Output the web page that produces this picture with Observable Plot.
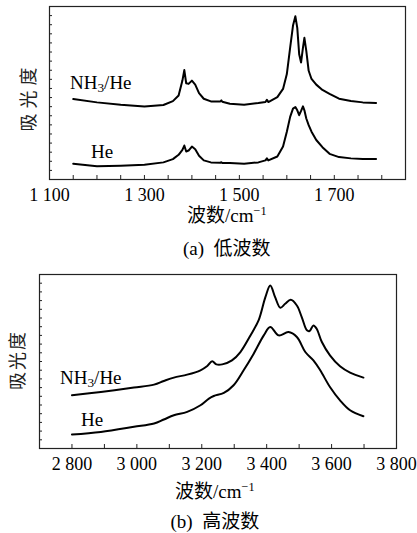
<!DOCTYPE html>
<html>
<head>
<meta charset="utf-8">
<script src="https://cdn.jsdelivr.net/npm/d3@7"></script>
<script src="https://cdn.jsdelivr.net/npm/@observablehq/plot@0.6"></script>
<style>
  html, body { margin: 0; padding: 0; background: #fff; }
  #wrap { position: relative; width: 417px; height: 533px; overflow: hidden;
          font-family: "Liberation Serif", "Times New Roman", "DejaVu Serif", "Noto Sans CJK SC", serif; color: #000; }
  .abs { position: absolute; white-space: nowrap; line-height: 1; }
  .lbl { font-size: 19px; }
  .ylab { font-size: 18px; color: #222; }
  sub { font-size: 0.7em; vertical-align: -0.2em; }
  sup { font-size: 0.65em; vertical-align: 0.55em; }
</style>
</head>
<body>
<div id="wrap">
  <div id="pa" class="abs" style="left:0;top:0"></div>
  <div id="pb" class="abs" style="left:0;top:268px"></div>
</div>
<script>
// ---------- Panel (a): low wavenumber ----------
const waveA = [1150,1200,1250,1300,1340,1360,1372,1380,1384,1388,1393,1400,1407,1415,1425,1440,1460,1462,1464,1480,1510,1540,1555,1558,1561,1580,1592,1600,1607,1613,1618,1622,1626,1630,1634,1637,1641,1646,1652,1662,1675,1690,1710,1735,1760,1788];
const nh3A  = [8.83,8.47,8.22,8.03,8.18,8.61,9.23,10.86,12.02,10.57,10.50,10.86,10.42,9.48,8.87,8.58,8.58,8.69,8.54,8.32,8.22,8.40,8.51,8.76,8.51,9.05,9.95,11.58,14.48,16.90,17.92,16.65,13.75,12.85,14.48,15.56,14.12,11.94,11.04,10.42,9.84,9.41,8.87,8.61,8.47,8.40];
const heA   = [1.74,1.45,1.52,1.63,1.88,2.24,2.71,3.26,3.73,3.08,3.18,3.62,3.33,2.61,2.10,1.88,1.83,1.90,1.81,1.81,1.74,1.88,2.10,2.32,2.10,2.53,3.62,5.25,6.88,7.78,7.96,7.60,7.06,7.53,8.03,7.60,6.70,5.97,5.25,4.34,3.55,2.82,2.46,2.32,2.24,2.24];
const xDomainA = [1100, 1850];
const xMajorA = [1100, 1300, 1500, 1700];
const xMinorA = [1150,1200,1250,1300,1350,1400,1450,1500,1550,1600,1650,1700,1750,1800];
const yMinorA = [1,2,3,4,5,6,7,8,9,10,11,12,13,14,15,16,17,18];

// ---------- Panel (b): high wavenumber ----------
const waveBn = [2800,2889,2991,3053,3083,3114,3155,3196,3217,3232,3245,3263,3293,3319,3350,3375,3396,3411,3426,3442,3457,3474,3493,3508,3524,3532,3544,3554,3570,3595,3626,3657,3698];
const nh3B   = [6.12,6.50,7.00,7.34,7.76,8.15,8.49,8.99,9.48,10.02,9.67,9.67,10.13,11.09,13.00,14.72,17.40,18.74,17.40,16.18,16.63,17.09,16.44,15.11,13.58,13.50,14.15,13.77,12.24,10.71,9.45,8.72,8.15];
const waveBh = [2800,2889,2991,3053,3083,3114,3155,3196,3222,3237,3268,3298,3329,3360,3391,3411,3437,3467,3493,3519,3544,3565,3595,3626,3657,3698];
const heB    = [1.61,1.91,2.49,2.87,3.33,3.82,4.21,4.97,5.74,6.04,6.39,7.27,8.99,10.90,13.00,13.96,13.00,13.38,12.81,11.09,10.13,8.99,7.07,5.54,4.40,3.71];
const xDomainB = [2700, 3800];
const xMajorB = [2800, 3000, 3200, 3400, 3600, 3800];
const xMinorB = [2800,2900,3000,3100,3200,3300,3400,3500,3600,3700];
const yMinorB = [1,2,3,4,5,6,7,8,9,10,11,12,13,14,15,16,17,18,19];

const fmt = d => d3.format(",")(d).replace(/,/g, " ");
const font = '"Liberation Serif", "Times New Roman", "DejaVu Serif", "Noto Sans CJK SC", serif';

function panel({waves1, vals1, waves2, vals2, xDomain, yDomain, xMajor, xMinor, yMinor, mL, mR, mT, mB, pad, curve}) {
  const fw = 417 - mL - mR, fh = 205 - mT - mB;
  const s1 = waves1.map((w, i) => ({w, v: vals1[i]}));
  const s2 = waves2.map((w, i) => ({w, v: vals2[i]}));
  return Plot.plot({
    width: 417, height: 205,
    marginLeft: mL, marginRight: mR, marginTop: mT, marginBottom: mB,
    x: {domain: xDomain},
    y: {domain: yDomain, axis: null},
    style: {fontFamily: font, fontSize: "18px", color: "#000", background: "transparent", overflow: "visible"},
    marks: [
      Plot.frame({stroke: "#222", strokeWidth: 1.2}),
      Plot.tickX(xMinor, {x: d => d, insetTop: fh - 4, stroke: "#222", strokeWidth: 1}),
      Plot.tickY(yMinor, {y: d => d, insetRight: fw - 3, stroke: "#222", strokeWidth: 1}),
      Plot.axisX(xMajor, {tickSize: 0, tickPadding: pad, tickFormat: fmt, label: null, fontSize: 18}),
      Plot.line(s1, {x: "w", y: "v", stroke: "#000", strokeWidth: 2, curve, strokeLinejoin: "round"}),
      Plot.line(s2, {x: "w", y: "v", stroke: "#000", strokeWidth: 2, curve, strokeLinejoin: "round"})
    ]
  });
}

document.getElementById("pa").appendChild(panel({
  waves1: waveA, vals1: nh3A, waves2: waveA, vals2: heA,
  xDomain: xDomainA, yDomain: [0, 19], xMajor: xMajorA, xMinor: xMinorA, yMinor: yMinorA,
  mL: 49, mR: 12, mT: 6, mB: 26, pad: 9, curve: "linear"
}));
document.getElementById("pb").appendChild(panel({
  waves1: waveBn, vals1: nh3B, waves2: waveBh, vals2: heB,
  xDomain: xDomainB, yDomain: [0, 20], xMajor: xMajorB, xMinor: xMinorB, yMinor: yMinorB,
  mL: 39, mR: 21, mT: 6, mB: 25, pad: 9, curve: "catmull-rom"
}));

// ---------- Text ----------
const texts = [
  {html: "NH<sub>3</sub>/He", cls: "lbl", left: 70, top: 73},
  {html: "He", cls: "lbl", left: 91, top: 142},
  {html: "NH<sub>3</sub>/He", cls: "lbl", left: 60, top: 368},
  {html: "He", cls: "lbl", left: 81, top: 410},
  {html: "波数/cm<sup>−1</sup>", cls: "lbl", cx: 227, top: 205},
  {html: "(a)&nbsp;&nbsp;低波数", cls: "lbl", cx: 227, top: 239},
  {html: "波数/cm<sup>−1</sup>", cls: "lbl", cx: 215, top: 481},
  {html: "(b)&nbsp;&nbsp;高波数", cls: "lbl", cx: 215, top: 512},
  {html: "吸光度", cls: "ylab", cx: 28, cy: 97, ls: 5, rot: true},
  {html: "吸光度", cls: "ylab", cx: 18, cy: 360, ls: 2, rot: true}
];
const wrap = document.getElementById("wrap");
for (const t of texts) {
  const el = document.createElement("div");
  el.className = "abs " + t.cls;
  el.innerHTML = t.html;
  if (t.ls) el.style.letterSpacing = t.ls + "px";
  wrap.appendChild(el);
  const w = el.offsetWidth, h = el.offsetHeight;
  el.style.left = (t.cx !== undefined ? t.cx - w / 2 : t.left) + "px";
  el.style.top = (t.cy !== undefined ? t.cy - h / 2 : t.top) + "px";
  if (t.rot) { el.style.transformOrigin = "50% 50%"; el.style.transform = "rotate(-90deg)"; }
}
</script>
</body>
</html>
